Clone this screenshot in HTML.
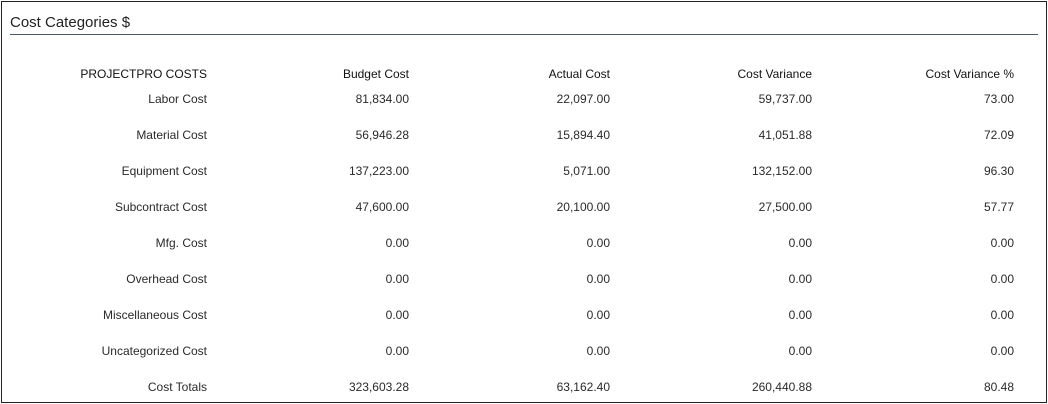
<!DOCTYPE html>
<html><head><style>
body{margin:0;width:1048px;height:404px;background:#fff;font-family:"Liberation Sans",sans-serif;color:#2a2a2a;}
.box{position:absolute;left:1px;top:1px;width:1044px;height:400px;border:1px solid #222;}
.title{position:absolute;left:10px;top:14px;font-size:15px;color:#222;}
.line{position:absolute;left:10px;top:34px;width:1028px;height:1px;background:#4a5a6a;}
.c{position:absolute;font-size:12px;text-align:right;white-space:nowrap;transform:translateY(-50%);}
.h{color:#111;}
</style></head><body>
<div class="box"></div>
<div class="title">Cost Categories $</div>
<div class="line"></div>
<div id="t"></div>
<script>
const rows=[["PROJECTPRO COSTS","Budget Cost","Actual Cost","Cost Variance","Cost Variance %"],
["Labor Cost","81,834.00","22,097.00","59,737.00","73.00"],
["Material Cost","56,946.28","15,894.40","41,051.88","72.09"],
["Equipment Cost","137,223.00","5,071.00","132,152.00","96.30"],
["Subcontract Cost","47,600.00","20,100.00","27,500.00","57.77"],
["Mfg. Cost","0.00","0.00","0.00","0.00"],
["Overhead Cost","0.00","0.00","0.00","0.00"],
["Miscellaneous Cost","0.00","0.00","0.00","0.00"],
["Uncategorized Cost","0.00","0.00","0.00","0.00"],
["Cost Totals","323,603.28","63,162.40","260,440.88","80.48"]];
const rx=[207,409,610,812,1014];
let h="";
rows.forEach((r,i)=>{const y=i==0?74:99+(i-1)*36;
r.forEach((v,j)=>{h+=`<div class="c${i==0?' h':''}" style="right:${1048-rx[j]}px;top:${y}px">${v}</div>`;});});
document.getElementById("t").innerHTML=h;
</script>
</body></html>
